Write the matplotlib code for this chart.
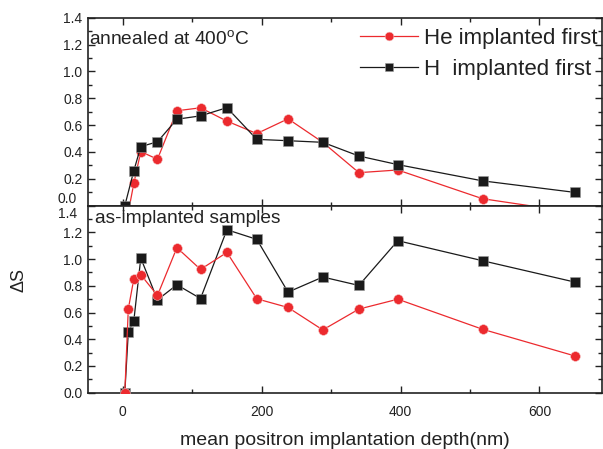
import matplotlib
matplotlib.use("Agg")
import matplotlib.pyplot as plt
import matplotlib.transforms as mtransforms
from matplotlib.ticker import MultipleLocator, FuncFormatter

plt.rcParams['font.family'] = ['Liberation Sans', 'DejaVu Sans']
plt.rcParams['mathtext.fontset'] = 'custom'
plt.rcParams['mathtext.rm'] = 'Liberation Sans'
plt.rcParams['mathtext.it'] = 'Liberation Sans:italic'

# ---- data: annealed at 400 C (top panel)
ann_he_x = [8, 16, 26, 50, 78, 112, 150, 193, 238, 288, 340, 396, 518, 651]
ann_he_y = [-0.05, 0.167, 0.403, 0.346, 0.707, 0.729, 0.63, 0.537, 0.647, 0.472, 0.246, 0.266, 0.052, -0.05]
ann_h_x = [3, 16, 26, 50, 78, 112, 150, 193, 238, 288, 340, 396, 518, 651]
ann_h_y = [0.0, 0.261, 0.44, 0.476, 0.644, 0.669, 0.73, 0.494, 0.484, 0.472, 0.37, 0.306, 0.185, 0.099]

# ---- data: as-implanted samples (bottom panel)
imp_x = [3, 8, 16, 26, 50, 78, 112, 150, 193, 238, 288, 340, 396, 518, 651]
imp_he_y = [0.0, 0.626, 0.853, 0.883, 0.728, 1.086, 0.923, 1.05, 0.703, 0.638, 0.47, 0.626, 0.70, 0.475, 0.275]
imp_h_y = [0.0, 0.453, 0.54, 1.008, 0.695, 0.808, 0.705, 1.22, 1.148, 0.753, 0.866, 0.803, 1.138, 0.988, 0.828]

labels = ["He implanted first", "H  implanted first"]
panel_texts = ["annealed at 400$^{\\rm o}$C", "as-implanted samples"]
xlabel = "mean positron implantation depth(nm)"
ylabel = "\u0394S"
yticks = [0.0, 0.2, 0.4, 0.6, 0.8, 1.0, 1.2, 1.4]

RED = "#ec2a2e"
BLACK = "#1a1a1a"
TXT = '#222222'

W, H = 603, 449
fig = plt.figure(figsize=(W / 100, H / 100), dpi=100)
L = 88 / W
R = 602 / W
ax1 = fig.add_axes([L, 1 - 205.7 / H, R - L, (205.7 - 17.7) / H])
ax2 = fig.add_axes([L, 1 - 392.7 / H, R - L, (392.7 - 205.7) / H])

def style(ax, skip):
    ax.set_xlim(-50, 690)
    ax.set_ylim(0, 1.4)
    ax.xaxis.set_major_locator(MultipleLocator(200))
    ax.xaxis.set_minor_locator(MultipleLocator(100))
    ax.set_yticks(yticks)
    ax.yaxis.set_minor_locator(MultipleLocator(0.1))
    ax.yaxis.set_major_formatter(
        FuncFormatter(lambda v, p: '' if abs(v - skip) < 1e-6 else '%.1f' % v))
    ax.tick_params(which='both', direction='in', top=True, right=True, labelsize=10,
                   colors=TXT, width=1.0)
    ax.tick_params(which='major', length=5)
    ax.tick_params(which='minor', length=3)
    ax.tick_params(axis='x', pad=9)
    ax.tick_params(axis='y', pad=4)
    for s in ax.spines.values():
        s.set_linewidth(1.2)
        s.set_color(TXT)

mk_c = dict(lw=0.9, markersize=7.0, markeredgewidth=0.4)
mk_s = dict(lw=0.9, markersize=6.6, markeredgewidth=0.4)
l1, = ax1.plot(ann_he_x, ann_he_y, '-o', color=RED, markeredgecolor='#f6c0c0', **mk_c)
l2, = ax1.plot(ann_h_x, ann_h_y, '-s', color=BLACK, markeredgecolor='#999999', **mk_s)
ax2.plot(imp_x, imp_he_y, '-o', color=RED, markeredgecolor='#f6c0c0', zorder=3, **mk_c)
ax2.plot(imp_x, imp_h_y, '-s', color=BLACK, markeredgecolor='#999999', zorder=2, **mk_s)

style(ax1, yticks[0])
style(ax2, yticks[-1])
ax1.tick_params(axis='x', labelbottom=False)

# staggered boundary labels (0.0 of the top panel, 1.4 of the bottom panel)
pad_px = 4 + 5 * 100 / 72.0
tr1 = mtransforms.blended_transform_factory(ax1.transAxes, ax1.transData)
tr2 = mtransforms.blended_transform_factory(ax2.transAxes, ax2.transData)
off_up = mtransforms.ScaledTranslation(-pad_px / 100, 3 / 100, fig.dpi_scale_trans)
off_dn = mtransforms.ScaledTranslation(-pad_px / 100, -1 / 100, fig.dpi_scale_trans)
ax1.text(0, yticks[0], '%.1f' % yticks[0], transform=tr1 + off_up, ha='right', va='baseline',
         fontsize=10, color=TXT, clip_on=False)
ax2.text(0, yticks[-1], '%.1f' % yticks[-1], transform=tr2 + off_dn, ha='right', va='top',
         fontsize=10, color=TXT, clip_on=False)

ax1.text(0.002, 0.86, panel_texts[0], transform=ax1.transAxes, fontsize=13.8,
         ha='left', va='baseline', color=TXT)
ax2.text(0.0136, 0.907, panel_texts[1], transform=ax2.transAxes, fontsize=13.8,
         ha='left', va='baseline', color=TXT)

leg = ax1.legend([l1, l2], labels, loc='upper left', bbox_to_anchor=(0.529, 0.945),
                 frameon=False, fontsize=16, handlelength=2.6, handletextpad=0.3,
                 borderpad=0, borderaxespad=0, labelspacing=0.45, markerscale=0.9)
for t in leg.get_texts():
    t.set_color(TXT)

ax2.set_xlabel(xlabel, fontsize=14, color=TXT, labelpad=9)
fig.text(19 / W, 1 - 280 / H, ylabel, rotation=90, fontsize=13, ha='center', va='center',
         color=TXT)

fig.savefig("out.png", dpi=100)
